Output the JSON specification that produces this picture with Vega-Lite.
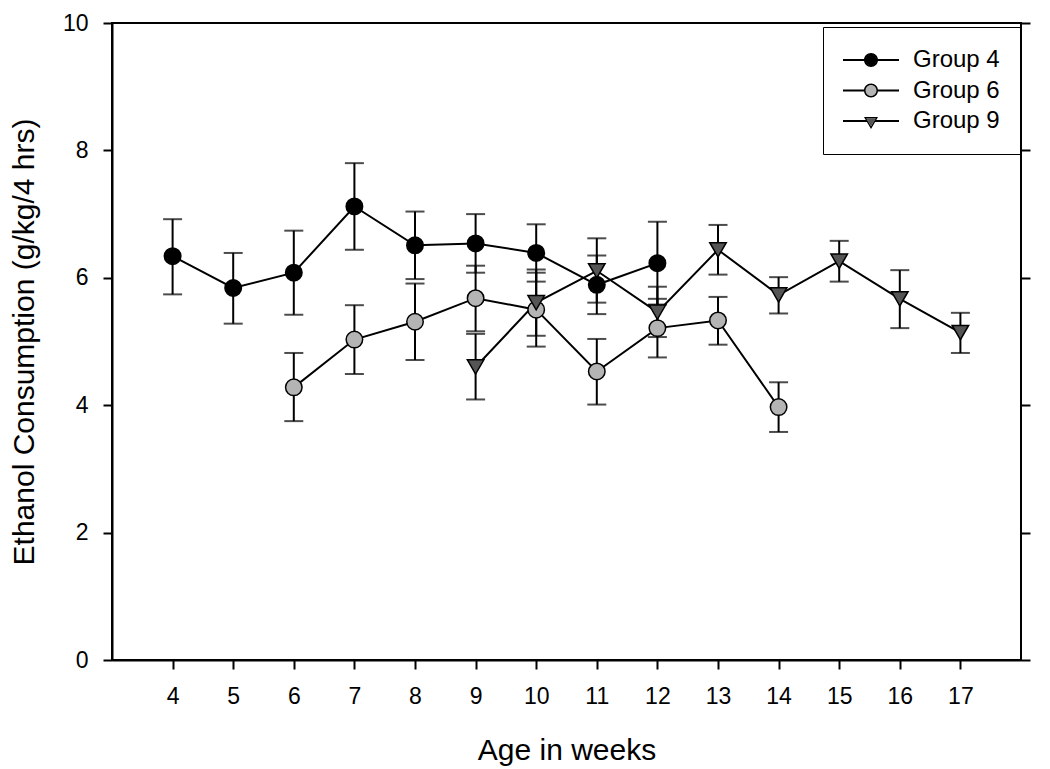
{
  "$schema": "https://vega.github.io/schema/vega-lite/v6.json",
  "width": 909,
  "height": 637,
  "autosize": "none",
  "padding": {"left": 112, "top": 23, "right": 29, "bottom": 109},
  "background": "white",
  "config": {
    "font": "Liberation Sans",
    "view": {"stroke": "black", "strokeWidth": 2},
    "axis": {
      "grid": false,
      "domainColor": "black",
      "domainWidth": 2,
      "tickColor": "black",
      "tickWidth": 2,
      "tickSize": 9,
      "labelColor": "black",
      "labelFont": "Liberation Sans",
      "labelFontSize": 23,
      "labelFlush": false,
      "labelOverlap": false,
      "titleColor": "black",
      "titleFont": "Liberation Sans",
      "titleFontSize": 30,
      "titleFontWeight": "normal"
    }
  },
  "data": {
    "values": [
      {"group": "Group 4", "week": 4, "mean": 6.34, "lo": 5.74, "hi": 6.92},
      {"group": "Group 4", "week": 5, "mean": 5.84, "lo": 5.28, "hi": 6.39},
      {"group": "Group 4", "week": 6, "mean": 6.08, "lo": 5.42, "hi": 6.74},
      {"group": "Group 4", "week": 7, "mean": 7.12, "lo": 6.44, "hi": 7.80},
      {"group": "Group 4", "week": 8, "mean": 6.51, "lo": 5.98, "hi": 7.04},
      {"group": "Group 4", "week": 9, "mean": 6.54, "lo": 6.08, "hi": 7.00},
      {"group": "Group 4", "week": 10, "mean": 6.39, "lo": 5.94, "hi": 6.84},
      {"group": "Group 4", "week": 11, "mean": 5.89, "lo": 5.43, "hi": 6.35},
      {"group": "Group 4", "week": 12, "mean": 6.23, "lo": 5.58, "hi": 6.88},
      {"group": "Group 6", "week": 6, "mean": 4.28, "lo": 3.75, "hi": 4.82},
      {"group": "Group 6", "week": 7, "mean": 5.03, "lo": 4.49, "hi": 5.57},
      {"group": "Group 6", "week": 8, "mean": 5.31, "lo": 4.71, "hi": 5.91},
      {"group": "Group 6", "week": 9, "mean": 5.68, "lo": 5.16, "hi": 6.19},
      {"group": "Group 6", "week": 10, "mean": 5.50, "lo": 4.92, "hi": 6.08},
      {"group": "Group 6", "week": 11, "mean": 4.53, "lo": 4.01, "hi": 5.04},
      {"group": "Group 6", "week": 12, "mean": 5.21, "lo": 4.75, "hi": 5.67},
      {"group": "Group 6", "week": 13, "mean": 5.33, "lo": 4.95, "hi": 5.70},
      {"group": "Group 6", "week": 14, "mean": 3.97, "lo": 3.58, "hi": 4.36},
      {"group": "Group 9", "week": 9, "mean": 4.60, "lo": 4.09, "hi": 5.12},
      {"group": "Group 9", "week": 10, "mean": 5.61, "lo": 5.09, "hi": 6.13},
      {"group": "Group 9", "week": 11, "mean": 6.11, "lo": 5.61, "hi": 6.62},
      {"group": "Group 9", "week": 12, "mean": 5.46, "lo": 5.07, "hi": 5.86},
      {"group": "Group 9", "week": 13, "mean": 6.44, "lo": 6.05, "hi": 6.83},
      {"group": "Group 9", "week": 14, "mean": 5.73, "lo": 5.44, "hi": 6.01},
      {"group": "Group 9", "week": 15, "mean": 6.26, "lo": 5.94, "hi": 6.58},
      {"group": "Group 9", "week": 16, "mean": 5.67, "lo": 5.21, "hi": 6.12},
      {"group": "Group 9", "week": 17, "mean": 5.14, "lo": 4.82, "hi": 5.45}
    ]
  },
  "resolve": {
    "axis": {"x": "independent", "y": "independent"},
    "scale": {"shape": "independent", "fill": "independent"},
    "legend": {"shape": "independent", "fill": "independent"}
  },
  "layer": [
    {
      "mark": {
        "type": "errorbar",
        "ticks": {"size": 19, "thickness": 2, "color": "black"},
        "rule": {"strokeWidth": 2, "color": "black"}
      },
      "encoding": {
        "x": {
          "field": "week", "type": "quantitative",
          "scale": {"domain": [3, 18], "nice": false, "zero": false},
          "axis": {
            "orient": "bottom",
            "values": [4, 5, 6, 7, 8, 9, 10, 11, 12, 13, 14, 15, 16, 17],
            "format": "d",
            "labelFontSize": 23,
            "labelPadding": 16,
            "title": "Age in weeks",
            "titleBaseline": "alphabetic",
            "titleY": 99
          }
        },
        "y": {
          "field": "lo", "type": "quantitative",
          "scale": {"domain": [0, 10], "nice": false},
          "axis": {
            "orient": "left",
            "values": [0, 2, 4, 6, 8, 10],
            "format": "d",
            "labelFontSize": 23,
            "labelPadding": 15,
            "title": "Ethanol Consumption (g/kg/4 hrs)",
            "titleAngle": 270,
            "titleBaseline": "alphabetic",
            "titleX": -79
          }
        },
        "y2": {"field": "hi"}
      }
    },
    {
      "mark": {"type": "line", "color": "black", "strokeWidth": 2},
      "encoding": {
        "x": {"field": "week", "type": "quantitative", "axis": null},
        "y": {
          "field": "mean", "type": "quantitative",
          "axis": {
            "orient": "right",
            "values": [0, 2, 4, 6, 8, 10],
            "labels": false,
            "domain": false,
            "title": null
          }
        },
        "detail": {"field": "group"}
      }
    },
    {
      "mark": {"type": "point", "filled": true, "size": 272, "stroke": "black", "strokeWidth": 1.5, "opacity": 1},
      "encoding": {
        "x": {"field": "week", "type": "quantitative", "axis": null},
        "y": {"field": "mean", "type": "quantitative", "axis": null},
        "fill": {
          "field": "group", "type": "nominal",
          "scale": {"domain": ["Group 4", "Group 6", "Group 9"], "range": ["#000000", "#b4b4b4", "#555555"]},
          "legend": null
        },
        "shape": {
          "field": "group", "type": "nominal",
          "scale": {"domain": ["Group 4", "Group 6", "Group 9"], "range": ["circle", "circle", "triangle-down"]},
          "legend": null
        }
      }
    },
    {
      "mark": {"type": "point", "filled": true, "size": 196, "opacity": 0},
      "encoding": {
        "x": {"field": "week", "type": "quantitative", "axis": null},
        "y": {"field": "mean", "type": "quantitative", "axis": null},
        "fill": {
          "field": "group", "type": "nominal",
          "scale": {"domain": ["Group 4", "Group 6", "Group 9"], "range": ["#000000", "#000000", "#000000"]},
          "legend": {
            "title": null,
            "orient": "none",
            "legendX": 711,
            "legendY": 4,
            "padding": 21,
            "strokeColor": "black",
            "labelFont": "Liberation Sans",
            "labelFontSize": 24,
            "labelColor": "black",
            "labelOffset": 30,
            "symbolOffset": 15,
            "symbolSize": 196,
            "symbolOpacity": 1,
            "rowPadding": 6.5
          }
        },
        "shape": {
          "field": "group", "type": "nominal",
          "scale": {
            "domain": ["Group 4", "Group 6", "Group 9"],
            "range": [
              "M-4,-0.15H-0.9V0.15H-4ZM0.9,-0.15H4V0.15H0.9ZM-1,0A1,1,0,1,1,1,0A1,1,0,1,1,-1,0ZM-0.72,0A0.72,0.72,0,1,0,0.72,0A0.72,0.72,0,1,0,-0.72,0Z",
              "M-4,-0.15H-0.9V0.15H-4ZM0.9,-0.15H4V0.15H0.9ZM-1,0A1,1,0,1,1,1,0A1,1,0,1,1,-1,0ZM-0.72,0A0.72,0.72,0,1,0,0.72,0A0.72,0.72,0,1,0,-0.72,0Z",
              "M-4,-0.15H-0.6V0.15H-4ZM0.6,-0.15H4V0.15H0.6ZM0,1.155L-1,-0.577L1,-0.577ZM0,0.75L0.65,-0.375L-0.65,-0.375Z"
            ]
          },
          "legend": {
            "title": null,
            "orient": "none",
            "legendX": 711,
            "legendY": 4,
            "padding": 21,
            "strokeColor": "black",
            "labelFont": "Liberation Sans",
            "labelFontSize": 24,
            "labelColor": "black",
            "labelOffset": 30,
            "symbolOffset": 15,
            "symbolSize": 196,
            "symbolOpacity": 1,
            "rowPadding": 6.5
          }
        }
      }
    },
    {
      "mark": {"type": "point", "filled": true, "size": 196, "opacity": 0},
      "encoding": {
        "x": {"field": "week", "type": "quantitative", "axis": null},
        "y": {"field": "mean", "type": "quantitative", "axis": null},
        "fill": {
          "field": "group", "type": "nominal",
          "scale": {"domain": ["Group 4", "Group 6", "Group 9"], "range": ["#000000", "#b4b4b4", "#555555"]},
          "legend": {
            "title": null,
            "orient": "none",
            "legendX": 711,
            "legendY": 4,
            "padding": 21,
            "strokeColor": "transparent",
            "labelFont": "Liberation Sans",
            "labelFontSize": 24,
            "labelColor": "black",
            "labelOpacity": 0,
            "labelOffset": 30,
            "symbolOffset": 15,
            "symbolSize": 196,
            "symbolOpacity": 1,
            "rowPadding": 6.5
          }
        },
        "shape": {
          "field": "group", "type": "nominal",
          "scale": {
            "domain": ["Group 4", "Group 6", "Group 9"],
            "range": [
              "M-0.78,0A0.78,0.78,0,1,1,0.78,0A0.78,0.78,0,1,1,-0.78,0Z",
              "M-0.78,0A0.78,0.78,0,1,1,0.78,0A0.78,0.78,0,1,1,-0.78,0Z",
              "M0,0.8L-0.69,-0.4L0.69,-0.4Z"
            ]
          },
          "legend": {
            "title": null,
            "orient": "none",
            "legendX": 711,
            "legendY": 4,
            "padding": 21,
            "strokeColor": "transparent",
            "labelFont": "Liberation Sans",
            "labelFontSize": 24,
            "labelColor": "black",
            "labelOpacity": 0,
            "labelOffset": 30,
            "symbolOffset": 15,
            "symbolSize": 196,
            "symbolOpacity": 1,
            "rowPadding": 6.5
          }
        }
      }
    }
  ]
}
